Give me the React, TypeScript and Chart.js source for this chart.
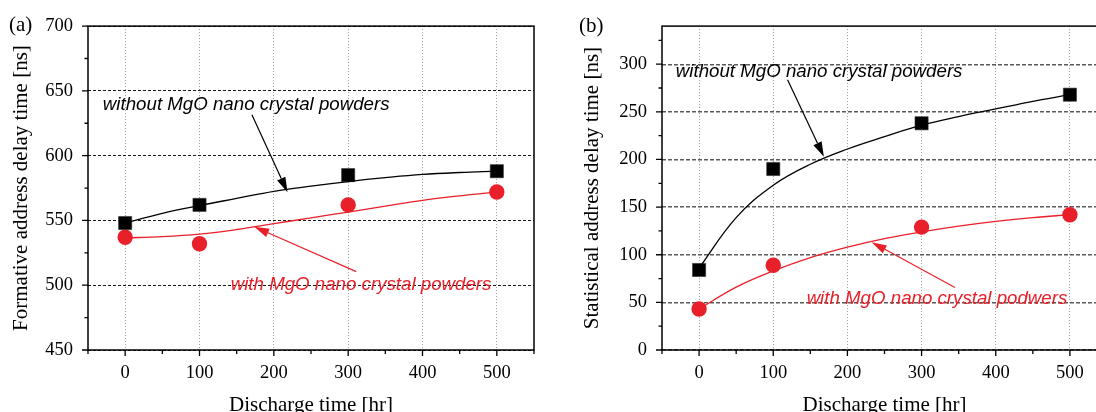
import React, { useEffect, useRef } from 'react';
import { Chart, registerables } from 'chart.js';
Chart.register(...registerables);

// ---------- data ----------
const hours = [0, 100, 300, 500];
const fitHours = [0, 50, 100, 150, 200, 250, 300, 350, 400, 450, 500];
const xTickValues = [0, 100, 200, 300, 400, 500];
const xMarkValues = [-50, 0, 50, 100, 150, 200, 250, 300, 350, 400, 450, 500, 550];

// (a) Formative address delay time
const formWithout = [548, 562, 585, 588];
const formWith = [537, 532, 562, 572];
const formWithoutFit = [548, 555.5, 561.5, 567, 572.5, 576.5, 580, 583, 585.5, 587, 588];
const formWithFit = [536.5, 537.5, 539.5, 543, 547.5, 552, 556.5, 561, 565.5, 569, 572];
const formTicks = [450, 500, 550, 600, 650, 700];
const formMarks = [450, 475, 500, 525, 550, 575, 600, 625, 650, 675, 700];

// (b) Statistical address delay time
const statWithout = [84, 190, 238, 268];
const statWith = [43, 89, 129, 142];
const statWithoutFit = [86, 139, 173, 195, 211, 224, 236, 245, 253, 261, 268];
const statWithFit = [43, 66, 83, 97, 108, 117, 124, 130, 135, 139, 142];
const statTicks = [0, 50, 100, 150, 200, 250, 300];
const statMarks = [0, 25, 50, 75, 100, 125, 150, 175, 200, 225, 250, 275, 300, 325];

// annotation labels [text, x, y] and arrows [x0, y0, x1(tip), y1(tip)] in data units
const formLabelWithout = ['without MgO nano crystal powders', -30, 635.4];
const formLabelWith = ['with MgO nano crystal powders', 142, 496.4];
const formArrowWithout = [170.5, 631.5, 218.4, 571.8];
const formArrowWith = [310.9, 510.5, 173.6, 545.1];
const statLabelWithout = ['without MgO nano crystal powders', -31.4, 287];
const statLabelWith = ['with MgO nano crystal podwers', 145, 48.3];
const statArrowWithout = [119.3, 283.7, 168.3, 202.8];
const statArrowWith = [345, 65.6, 232.7, 113.2];

const RED = '#e8202a';
const SERIF = '"Liberation Serif", "Times New Roman", serif';
const SANS = '"Liberation Sans", Arial, sans-serif';

type PanelCfg = {
  panelLabel: string;
  yTitle: string;
  yMin: number;
  yMax: number;
  yTicks: number[];
  yMarks: number[];
  without: number[];
  withP: number[];
  withoutFit: number[];
  withFit: number[];
  labels: any[][];
  arrows: number[][];
  yWidth: number;
  yTitlePad: number;
  padRight: number;
  hGridColor: string;
  hGridDash: number[];
  hGridWidth: number;
  panelLabelX: number;
  panelLabelY: number;
};

const CANVAS_H = 418;
const PLOT_BOTTOM = 350;

function Panel({ cfg, width, left }: { cfg: PanelCfg; width: number; left: number }) {
  const ref = useRef<HTMLCanvasElement>(null);
  useEffect(() => {
    const canvas = ref.current!;
    const decor = {
      id: 'decor',
      afterDraw(chart: any) {
        const { ctx, chartArea, scales } = chart;
        const { left: l, right: r, top: t, bottom: b } = chartArea;
        const xs = scales.x, ys = scales.y;
        ctx.save();
        ctx.strokeStyle = '#000';
        ctx.lineWidth = 1.5;
        ctx.setLineDash([]);
        ctx.strokeRect(l, t, r - l, b - t);
        ctx.lineWidth = 1.3;
        ctx.beginPath();
        xMarkValues.forEach((v) => {
          const px = xs.getPixelForValue(v);
          const len = v % 100 === 0 ? 6 : 4;
          ctx.moveTo(px, b);
          ctx.lineTo(px, b + len);
        });
        cfg.yMarks.forEach((v) => {
          const py = ys.getPixelForValue(v);
          const len = cfg.yTicks.includes(v) ? 6 : 3.5;
          ctx.moveTo(l, py);
          ctx.lineTo(l - len, py);
        });
        ctx.stroke();

        // panel label
        ctx.fillStyle = '#000';
        ctx.font = '21px ' + SERIF;
        ctx.textBaseline = 'middle';
        ctx.textAlign = 'left';
        ctx.fillText(cfg.panelLabel, cfg.panelLabelX, cfg.panelLabelY);
        ctx.restore();
      },
      afterDatasetsDraw(chart: any) {
        const { ctx, scales } = chart;
        const xs = scales.x, ys = scales.y;
        ctx.save();
        ctx.font = 'italic 18.7px ' + SANS;
        ctx.textBaseline = 'alphabetic';
        ctx.textAlign = 'left';
        cfg.labels.forEach((lab, i) => {
          ctx.fillStyle = i === 0 ? '#000' : RED;
          ctx.fillText(lab[0], xs.getPixelForValue(lab[1]), ys.getPixelForValue(lab[2]));
        });
        cfg.arrows.forEach((a, i) => {
          const col = i === 0 ? '#000' : RED;
          const x0 = xs.getPixelForValue(a[0]), y0 = ys.getPixelForValue(a[1]);
          const x1 = xs.getPixelForValue(a[2]), y1 = ys.getPixelForValue(a[3]);
          const ang = Math.atan2(y1 - y0, x1 - x0);
          const hl = 15, hw = 4.5;
          const bx = x1 - hl * Math.cos(ang), by = y1 - hl * Math.sin(ang);
          ctx.strokeStyle = col;
          ctx.fillStyle = col;
          ctx.lineWidth = 1.2;
          ctx.beginPath();
          ctx.moveTo(x0, y0);
          ctx.lineTo(bx, by);
          ctx.stroke();
          ctx.beginPath();
          ctx.moveTo(x1, y1);
          ctx.lineTo(bx + hw * Math.sin(ang), by - hw * Math.cos(ang));
          ctx.lineTo(bx - hw * Math.sin(ang), by + hw * Math.cos(ang));
          ctx.closePath();
          ctx.fill();
        });
        ctx.restore();
      },
    };

    const chart = new Chart(canvas, {
      type: 'line',
      data: {
        datasets: [
          {
            data: fitHours.map((h, i) => ({ x: h, y: cfg.withoutFit[i] })),
            borderColor: '#000',
            borderWidth: 1.3,
            pointRadius: 0,
            tension: 0.4,
            fill: false,
          },
          {
            data: fitHours.map((h, i) => ({ x: h, y: cfg.withFit[i] })),
            borderColor: RED,
            borderWidth: 1.3,
            pointRadius: 0,
            tension: 0.4,
            fill: false,
          },
          {
            data: hours.map((h, i) => ({ x: h, y: cfg.without[i] })),
            showLine: false,
            pointStyle: 'rect',
            pointRadius: 9.3,
            backgroundColor: '#000',
            borderColor: '#333',
            borderWidth: 0.6,
          },
          {
            data: hours.map((h, i) => ({ x: h, y: cfg.withP[i] })),
            showLine: false,
            pointStyle: 'circle',
            pointRadius: 7.7,
            backgroundColor: RED,
            borderColor: RED,
            borderWidth: 0,
          },
        ],
      } as any,
      options: {
        animation: false,
        responsive: false,
        devicePixelRatio: 1,
        layout: { padding: { top: 24, right: cfg.padRight, left: 0, bottom: 0 } },
        plugins: { legend: { display: false }, tooltip: { enabled: false } },
        scales: {
          x: {
            type: 'linear',
            min: -50,
            max: 550,
            afterBuildTicks: (s: any) => {
              s.ticks = xTickValues.map((v) => ({ value: v }));
            },
            afterFit: (s: any) => {
              s.height = CANVAS_H - PLOT_BOTTOM;
            },
            grid: { color: '#9a9a9a', lineWidth: 1, drawTicks: false },
            border: { display: false, dash: [1, 2] },
            ticks: {
              color: '#000',
              font: { family: SERIF, size: 18.5 },
              padding: 12,
              maxRotation: 0,
            },
            title: {
              display: true,
              text: 'Discharge time [hr]',
              color: '#000',
              font: { family: SERIF, size: 21 },
              padding: { top: 0, bottom: 0 },
            },
          },
          y: {
            type: 'linear',
            min: cfg.yMin,
            max: cfg.yMax,
            afterBuildTicks: (s: any) => {
              s.ticks = cfg.yTicks.map((v) => ({ value: v }));
            },
            afterFit: (s: any) => {
              s.width = cfg.yWidth;
            },
            grid: { color: cfg.hGridColor, lineWidth: cfg.hGridWidth, drawTicks: false },
            border: { display: false, dash: cfg.hGridDash },
            ticks: {
              color: '#000',
              font: { family: SERIF, size: 18.5 },
              padding: 15,
            },
            title: {
              display: true,
              text: cfg.yTitle,
              color: '#000',
              font: { family: SERIF, size: 21 },
              padding: { top: cfg.yTitlePad, bottom: 0 },
            },
          },
        },
      } as any,
      plugins: [decor],
    });
    return () => chart.destroy();
  }, []);
  return (
    <canvas
      ref={ref}
      width={width}
      height={CANVAS_H}
      style={{ position: 'absolute', left, top: 0, width, height: CANVAS_H }}
    />
  );
}

const panelA: PanelCfg = {
  panelLabel: '(a)',
  yTitle: 'Formative address delay time [ns]',
  yMin: 450,
  yMax: 700,
  yTicks: formTicks,
  yMarks: formMarks,
  without: formWithout,
  withP: formWith,
  withoutFit: formWithoutFit,
  withFit: formWithFit,
  labels: [formLabelWithout, formLabelWith],
  arrows: [formArrowWithout, formArrowWith],
  yWidth: 88,
  yTitlePad: 8.4,
  padRight: 14,
  hGridColor: '#1a1a1a',
  hGridDash: [3, 2],
  hGridWidth: 1,
  panelLabelX: 9,
  panelLabelY: 25,
};

const panelB: PanelCfg = {
  panelLabel: '(b)',
  yTitle: 'Statistical address delay time [ns]',
  yMin: 0,
  yMax: 340,
  yTicks: statTicks,
  yMarks: statMarks,
  without: statWithout,
  withP: statWith,
  withoutFit: statWithoutFit,
  withFit: statWithFit,
  labels: [statLabelWithout, statLabelWith],
  arrows: [statArrowWithout, statArrowWith],
  yWidth: 102,
  yTitlePad: 19.4,
  padRight: 13,
  hGridColor: '#5a5a5a',
  hGridDash: [4, 2],
  hGridWidth: 1.4,
  panelLabelX: 19,
  panelLabelY: 26.5,
};

export default function App() {
  return (
    <div
      style={{
        position: 'fixed',
        left: 0,
        top: 0,
        width: 1096,
        height: 412,
        overflow: 'hidden',
        background: '#fff',
      }}
    >
      <Panel cfg={panelA} width={548} left={0} />
      <Panel cfg={panelB} width={560} left={560} />
    </div>
  );
}
